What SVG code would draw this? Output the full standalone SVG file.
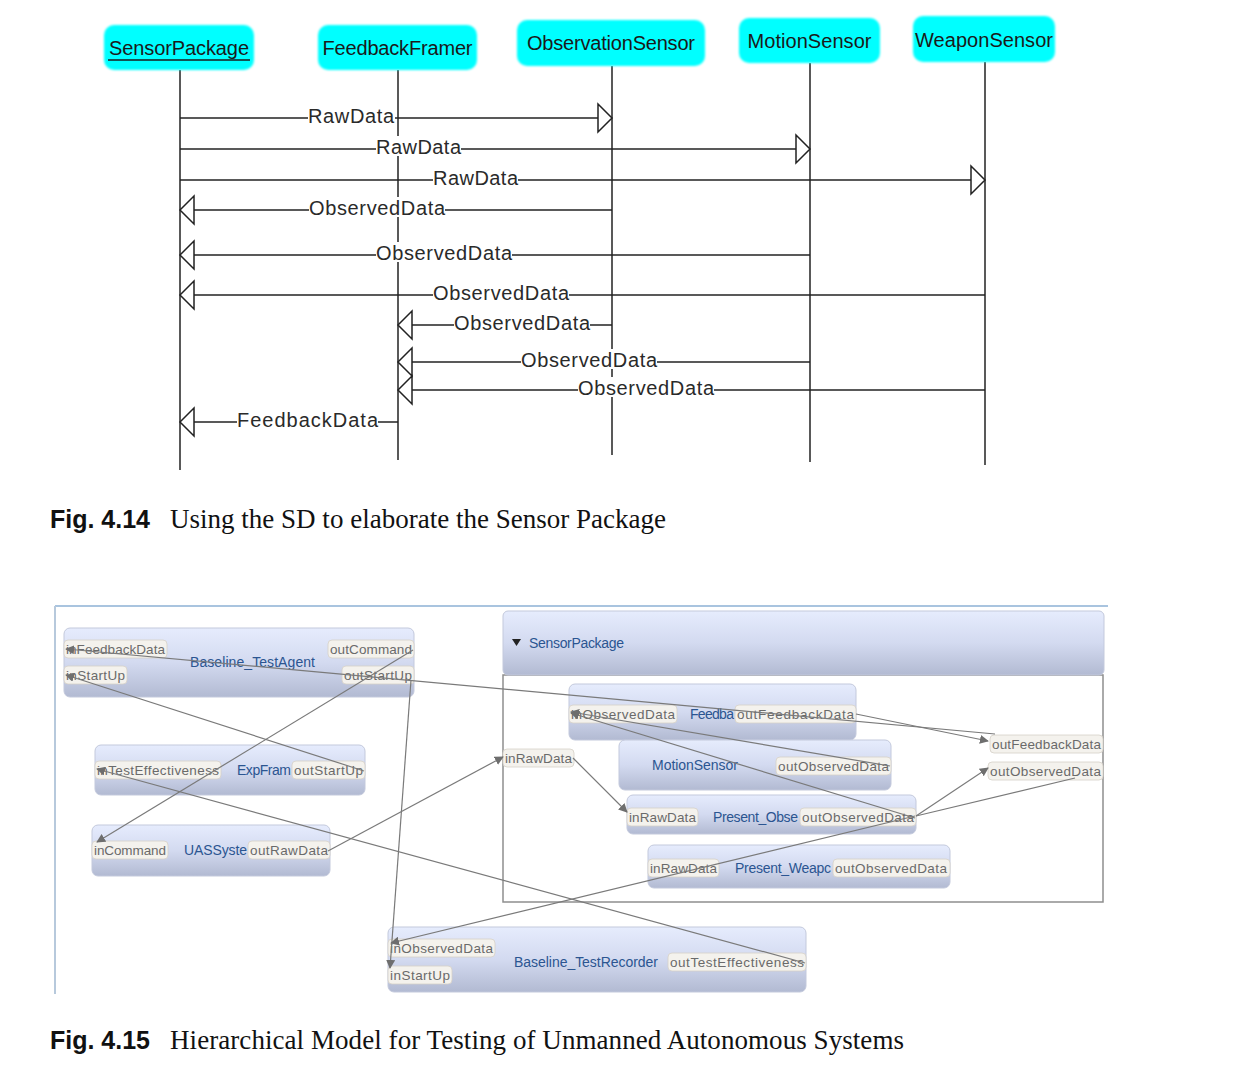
<svg xmlns="http://www.w3.org/2000/svg" width="1240" height="1070" viewBox="0 0 1240 1070">
<style>
.head{fill:#00FFFF;}
.htxt{font-family:"Liberation Sans",Arial,sans-serif;font-size:20px;fill:#1a1a1a;text-anchor:middle;}
.life{stroke:#222;stroke-width:1.5;fill:none;}
.msg{stroke:#222;stroke-width:1.5;fill:none;}
.tri{stroke:#222;stroke-width:1.5;fill:#fff;}
.mlbl{font-family:"Liberation Sans",Arial,sans-serif;font-size:20px;fill:#2a2a2a;}
.cap-b{font-family:"Liberation Sans",Arial,sans-serif;font-weight:bold;font-size:25px;fill:#111;}
.cap{font-family:"Liberation Serif","Times New Roman",serif;font-size:27px;fill:#111;}
.node{fill:url(#ng);stroke:#c3c9dc;stroke-width:1;}
.port{fill:#f4f2ed;stroke:#d6d1c8;stroke-width:0.8;}
.ptxt{font-family:"Liberation Sans",Arial,sans-serif;font-size:13.5px;fill:#6a6a6a;}
.ntxt{font-family:"Liberation Sans",Arial,sans-serif;font-size:14px;fill:#2b5591;}
.conn{stroke:#7a7a7a;stroke-width:1.2;fill:none;}
</style>
<defs>
<linearGradient id="ng" x1="0" y1="0" x2="0" y2="1">
<stop offset="0" stop-color="#e6ecfd"/>
<stop offset="0.5" stop-color="#d3daf0"/>
<stop offset="1" stop-color="#b2bad2"/>
</linearGradient>
<filter id="soft" x="-5%" y="-10%" width="110%" height="120%"><feGaussianBlur stdDeviation="1"/></filter>
<marker id="ah" viewBox="0 0 10 10" refX="9" refY="5" markerWidth="9" markerHeight="9" orient="auto" markerUnits="userSpaceOnUse">
<path d="M0,0 L10,5 L0,10 z" fill="#6e6e6e"/>
</marker>
</defs>
<rect x="0" y="0" width="1240" height="1070" fill="#fff"/>

<!-- ===== Fig 4.14 sequence diagram ===== -->
<g id="lifelines">
<line class="life" x1="180" y1="70" x2="180" y2="470"/>
<line class="life" x1="398" y1="70" x2="398" y2="460"/>
<line class="life" x1="612" y1="66" x2="612" y2="455"/>
<line class="life" x1="810" y1="63" x2="810" y2="462"/>
<line class="life" x1="985" y1="62" x2="985" y2="465"/>
</g>

<g id="head-SensorPackage">
<rect class="head" x="104" y="25" width="150" height="45" rx="10" filter="url(#soft)"/>
<text class="htxt" x="179" y="55" textLength="140">SensorPackage</text>
<line x1="108" y1="60" x2="250" y2="60" stroke="#1a1a1a" stroke-width="1.5"/>
</g>
<g id="head-FeedbackFramer">
<rect class="head" x="318" y="25" width="159" height="45" rx="10" filter="url(#soft)"/>
<text class="htxt" x="397.5" y="55" textLength="150">FeedbackFramer</text>
</g>
<g id="head-ObservationSensor">
<rect class="head" x="517" y="20" width="188" height="46" rx="10" filter="url(#soft)"/>
<text class="htxt" x="611" y="50" textLength="168">ObservationSensor</text>
</g>
<g id="head-MotionSensor">
<rect class="head" x="739" y="18" width="141" height="45" rx="10" filter="url(#soft)"/>
<text class="htxt" x="809.5" y="48" textLength="124">MotionSensor</text>
</g>
<g id="head-WeaponSensor">
<rect class="head" x="913" y="16" width="142" height="46" rx="10" filter="url(#soft)"/>
<text class="htxt" x="984" y="47" textLength="138">WeaponSensor</text>
</g>

<g id="messages">
<line class="msg" x1="180" y1="118" x2="612" y2="118"/>
<polygon class="tri" points="612,118 598,104 598,132"/>
<line class="msg" x1="180" y1="149" x2="810" y2="149"/>
<polygon class="tri" points="810,149 796,135 796,163"/>
<line class="msg" x1="180" y1="180" x2="985" y2="180"/>
<polygon class="tri" points="985,180 971,166 971,194"/>
<line class="msg" x1="180" y1="210" x2="612" y2="210"/>
<polygon class="tri" points="180,210 194,196 194,224"/>
<line class="msg" x1="180" y1="255" x2="810" y2="255"/>
<polygon class="tri" points="180,255 194,241 194,269"/>
<line class="msg" x1="180" y1="295" x2="985" y2="295"/>
<polygon class="tri" points="180,295 194,281 194,309"/>
<line class="msg" x1="398" y1="325" x2="612" y2="325"/>
<polygon class="tri" points="398,325 412,311 412,339"/>
<line class="msg" x1="398" y1="362" x2="810" y2="362"/>
<polygon class="tri" points="398,362 412,348 412,376"/>
<line class="msg" x1="398" y1="390" x2="985" y2="390"/>
<polygon class="tri" points="398,390 412,376 412,404"/>
<line class="msg" x1="180" y1="422" x2="398" y2="422"/>
<polygon class="tri" points="180,422 194,408 194,436"/>

<g fill="#fff">
<rect x="308" y="105" width="87" height="20"/>
<rect x="376" y="136" width="85" height="20"/>
<rect x="433" y="167" width="85" height="20"/>
<rect x="309" y="197" width="136" height="20"/>
<rect x="376" y="242" width="136" height="20"/>
<rect x="433" y="282" width="136" height="20"/>
<rect x="454" y="312" width="136" height="20"/>
<rect x="521" y="349" width="136" height="20"/>
<rect x="578" y="377" width="136" height="20"/>
<rect x="237" y="409" width="141" height="20"/>
</g>
<text class="mlbl" x="308" y="123" textLength="86">RawData</text>
<text class="mlbl" x="376" y="154" textLength="85">RawData</text>
<text class="mlbl" x="433" y="185" textLength="85">RawData</text>
<text class="mlbl" x="309" y="215" textLength="136">ObservedData</text>
<text class="mlbl" x="376" y="260" textLength="136">ObservedData</text>
<text class="mlbl" x="433" y="300" textLength="136">ObservedData</text>
<text class="mlbl" x="454" y="330" textLength="136">ObservedData</text>
<text class="mlbl" x="521" y="367" textLength="136">ObservedData</text>
<text class="mlbl" x="578" y="395" textLength="136">ObservedData</text>
<text class="mlbl" x="237" y="427" textLength="141">FeedbackData</text>
</g>

<g id="caption-414">
<text class="cap-b" x="50" y="528" textLength="100">Fig. 4.14</text>
<text class="cap" x="170" y="528" textLength="496">Using the SD to elaborate the Sensor Package</text>
</g>

<!-- ===== Fig 4.15 hierarchical model ===== -->
<g id="frame">
<line x1="55" y1="606" x2="1108" y2="606" stroke="#a9c4df" stroke-width="2"/>
<line x1="55" y1="606" x2="55" y2="994" stroke="#b7c9dc" stroke-width="2"/>
</g>

<g id="SensorPackage">
<rect x="503" y="675" width="600" height="227" fill="#fff" stroke="#8e8e8e" stroke-width="1.5"/>
<rect class="node" x="503" y="611" width="601" height="64" rx="5"/>
<polygon points="512,639 521,639 516.5,646" fill="#222"/>
<text class="ntxt" x="529" y="648" font-size="13.5" textLength="95">SensorPackage</text>
</g>

<g id="Baseline_TestAgent">
<rect class="node" x="64" y="628" width="350" height="69" rx="6"/>
<text class="ntxt" x="190" y="667" textLength="125">Baseline_TestAgent</text>
<rect class="port" x="64" y="640" width="103" height="18" rx="4"/>
<text class="ptxt" x="66" y="654" textLength="99">inFeedbackData</text>
<rect class="port" x="64" y="666" width="63" height="18" rx="4"/>
<text class="ptxt" x="66" y="680" textLength="59">inStartUp</text>
<rect class="port" x="328" y="640" width="86" height="18" rx="4"/>
<text class="ptxt" x="330" y="654" textLength="82">outCommand</text>
<rect class="port" x="342" y="666" width="72" height="18" rx="4"/>
<text class="ptxt" x="344" y="680" textLength="68">outStartUp</text>
</g>

<g id="ExpFramework">
<rect class="node" x="95" y="745" width="270" height="50" rx="6"/>
<text class="ntxt" x="237" y="775" textLength="54">ExpFram</text>
<rect class="port" x="95" y="761" width="126" height="18" rx="4"/>
<text class="ptxt" x="97" y="775" textLength="122">inTestEffectiveness</text>
<rect class="port" x="292" y="761" width="73" height="18" rx="4"/>
<text class="ptxt" x="294" y="775" textLength="69">outStartUp</text>
</g>

<g id="UASSystem">
<rect class="node" x="92" y="825" width="238" height="51" rx="6"/>
<text class="ntxt" x="184" y="855" textLength="63">UASSyste</text>
<rect class="port" x="92" y="841" width="76" height="18" rx="4"/>
<text class="ptxt" x="94" y="855" textLength="72">inCommand</text>
<rect class="port" x="248" y="841" width="82" height="18" rx="4"/>
<text class="ptxt" x="250" y="855" textLength="78">outRawData</text>
</g>

<g id="Baseline_TestRecorder">
<rect class="node" x="388" y="927" width="418" height="65" rx="6"/>
<text class="ntxt" x="514" y="967" textLength="144">Baseline_TestRecorder</text>
<rect class="port" x="388" y="939" width="107" height="18" rx="4"/>
<text class="ptxt" x="390" y="953" textLength="103">inObservedData</text>
<rect class="port" x="388" y="966" width="64" height="18" rx="4"/>
<text class="ptxt" x="390" y="980" textLength="60">inStartUp</text>
<rect class="port" x="668" y="953" width="138" height="18" rx="4"/>
<text class="ptxt" x="670" y="967" textLength="134">outTestEffectiveness</text>
</g>

<g id="SensorPackage-ports">
<rect class="port" x="503" y="749" width="71" height="18" rx="4"/>
<text class="ptxt" x="505" y="763" textLength="67">inRawData</text>
<rect class="port" x="990" y="735" width="113" height="18" rx="4"/>
<text class="ptxt" x="992" y="749" textLength="109">outFeedbackData</text>
<rect class="port" x="988" y="762" width="115" height="18" rx="4"/>
<text class="ptxt" x="990" y="776" textLength="111">outObservedData</text>
</g>

<g id="FeedbackFramer">
<rect class="node" x="569" y="684" width="287" height="56" rx="6"/>
<text class="ntxt" x="690" y="719" textLength="44">Feedba</text>
<rect class="port" x="569" y="705" width="108" height="18" rx="4"/>
<text class="ptxt" x="571" y="719" textLength="104">inObservedData</text>
<rect class="port" x="735" y="705" width="121" height="18" rx="4"/>
<text class="ptxt" x="737" y="719" textLength="117">outFeedbackData</text>
</g>

<g id="MotionSensor">
<rect class="node" x="619" y="740" width="272" height="50" rx="6"/>
<text class="ntxt" x="652" y="770" textLength="86">MotionSensor</text>
<rect class="port" x="776" y="757" width="115" height="18" rx="4"/>
<text class="ptxt" x="778" y="771" textLength="111">outObservedData</text>
</g>

<g id="Present_ObservationSensor">
<rect class="node" x="627" y="795" width="289" height="39" rx="6"/>
<text class="ntxt" x="713" y="822" textLength="85">Present_Obse</text>
<rect class="port" x="627" y="808" width="71" height="18" rx="4"/>
<text class="ptxt" x="629" y="822" textLength="67">inRawData</text>
<rect class="port" x="800" y="808" width="116" height="18" rx="4"/>
<text class="ptxt" x="802" y="822" textLength="112">outObservedData</text>
</g>

<g id="Present_WeaponSensor">
<rect class="node" x="648" y="845" width="302" height="43" rx="6"/>
<text class="ntxt" x="735" y="873" textLength="96">Present_Weapc</text>
<rect class="port" x="648" y="859" width="71" height="18" rx="4"/>
<text class="ptxt" x="650" y="873" textLength="67">inRawData</text>
<rect class="port" x="833" y="859" width="117" height="18" rx="4"/>
<text class="ptxt" x="835" y="873" textLength="112">outObservedData</text>
</g>

<g id="connectors">
<path class="conn" d="M413,650 L97,842" marker-end="url(#ah)"/>
<path class="conn" d="M364,771 L66,675" marker-end="url(#ah)"/>
<path class="conn" d="M411,680 L390,968" marker-end="url(#ah)"/>
<path class="conn" d="M995,734 L66,649" marker-end="url(#ah)"/>
<path class="conn" d="M328,851 L503,757" marker-end="url(#ah)"/>
<path class="conn" d="M573,758 L627,812" marker-end="url(#ah)"/>
<path class="conn" d="M805,963 L97,769" marker-end="url(#ah)"/>
<path class="conn" d="M915,816 L391,943" marker-end="url(#ah)"/>
<path class="conn" d="M916,816 L988,768" marker-end="url(#ah)"/>
<path class="conn" d="M916,816 L1075,778"/>
<path class="conn" d="M856,714 L988,741" marker-end="url(#ah)"/>
<path class="conn" d="M890,766 L571,712" marker-end="url(#ah)"/>
<path class="conn" d="M915,818 L571,713" marker-end="url(#ah)"/>
</g>

<g id="caption-415">
<text class="cap-b" x="50" y="1049" textLength="100">Fig. 4.15</text>
<text class="cap" x="170" y="1049" textLength="734">Hierarchical Model for Testing of Unmanned Autonomous Systems</text>
</g>
</svg>
